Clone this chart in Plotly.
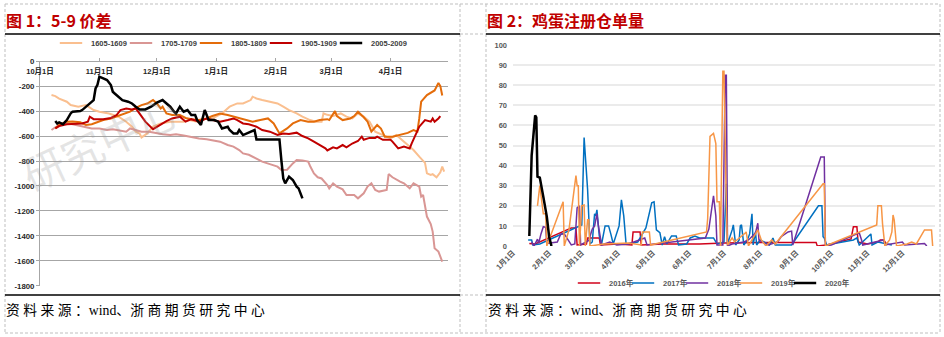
import plotly.graph_objects as go

W, H = 944, 337
def px(x): return x / W
def py(y): return 1 - y / H

# ---------------- Left chart: 5-9 spread ----------------
S1605 = [("2019-10-07",-272),("2019-10-09",-280),("2019-10-11",-300),("2019-10-15",-325),("2019-10-17",-352),("2019-10-21",-365),("2019-10-25",-352),("2019-10-29",-392),("2019-11-01",-405),("2019-11-06",-419),("2019-11-11",-445),("2019-11-15",-485),("2019-11-18",-525),("2019-11-20",-565),("2019-11-22",-580),("2019-11-23",-611),("2019-11-26",-579),("2019-11-29",-525),("2019-12-03",-499),("2019-12-08",-485),("2019-12-15",-485),("2019-12-18",-472),("2019-12-22",-485),("2019-12-25",-465),("2019-12-30",-459),("2020-01-04",-419),("2020-01-08",-365),("2020-01-12",-339),("2020-01-15",-339),("2020-01-19",-312),("2020-01-20",-285),("2020-01-22",-299),("2020-01-25",-312),("2020-01-29",-325),("2020-02-02",-339),("2020-02-05",-365),("2020-02-08",-392),("2020-02-12",-419),("2020-02-15",-445),("2020-02-19",-472),("2020-02-22",-485),("2020-02-25",-485),("2020-02-26",-419),("2020-02-28",-430),("2020-03-02",-440),("2020-03-06",-419),("2020-03-09",-445),("2020-03-12",-459),("2020-03-15",-420),("2020-03-18",-445),("2020-03-21",-485),("2020-03-24",-565),("2020-03-27",-585),("2020-04-01",-619),("2020-04-04",-592),("2020-04-07",-630),("2020-04-11",-680),("2020-04-13",-712),("2020-04-16",-765),("2020-04-19",-815),("2020-04-20",-899),("2020-04-22",-912),("2020-04-23",-905),("2020-04-25",-931),("2020-04-27",-890),("2020-04-28",-845),("2020-04-29",-885)]

S1705 = [("2019-10-07",-552),("2019-10-09",-530),("2019-10-12",-510),("2019-10-15",-499),("2019-10-18",-505),("2019-10-21",-515),("2019-10-25",-525),("2019-10-28",-539),("2019-11-01",-540),("2019-11-05",-552),("2019-11-08",-545),("2019-11-11",-552),("2019-11-15",-565),("2019-11-17",-539),("2019-11-20",-552),("2019-11-23",-565),("2019-11-27",-565),("2019-12-01",-579),("2019-12-04",-585),("2019-12-08",-592),("2019-12-11",-585),("2019-12-15",-595),("2019-12-18",-605),("2019-12-23",-619),("2019-12-27",-625),("2019-12-30",-632),("2020-01-03",-645),("2020-01-07",-672),("2020-01-10",-685),("2020-01-13",-712),("2020-01-15",-739),("2020-01-18",-750),("2020-01-22",-780),("2020-01-25",-805),("2020-01-29",-825),("2020-02-02",-845),("2020-02-04",-872),("2020-02-07",-870),("2020-02-10",-819),("2020-02-12",-792),("2020-02-15",-795),("2020-02-18",-805),("2020-02-19",-840),("2020-02-21",-899),("2020-02-23",-930),("2020-02-25",-940),("2020-02-28",-992),("2020-02-29",-1019),("2020-03-02",-979),("2020-03-04",-1005),("2020-03-07",-1027),("2020-03-09",-1072),("2020-03-13",-1072),("2020-03-15",-1099),("2020-03-18",-1059),("2020-03-20",-1005),("2020-03-22",-979),("2020-03-24",-1032),("2020-03-26",-1045),("2020-03-30",-1032),("2020-03-31",-904),("2020-04-02",-930),("2020-04-06",-965),("2020-04-08",-979),("2020-04-11",-1019),("2020-04-13",-979),("2020-04-16",-1005),("2020-04-17",-1085),("2020-04-18",-1072),("2020-04-20",-1245),("2020-04-22",-1305),("2020-04-23",-1365),("2020-04-24",-1499),("2020-04-26",-1525),("2020-04-28",-1605)]

S1805 = [("2019-10-09",-539),("2019-10-11",-510),("2019-10-15",-485),("2019-10-18",-483),("2019-10-22",-490),("2019-10-25",-512),("2019-10-28",-505),("2019-10-31",-490),("2019-11-03",-472),("2019-11-07",-460),("2019-11-10",-445),("2019-11-13",-430),("2019-11-17",-405),("2019-11-20",-375),("2019-11-23",-352),("2019-11-26",-340),("2019-11-29",-312),("2019-12-01",-339),("2019-12-03",-379),("2019-12-04",-365),("2019-12-06",-419),("2019-12-09",-432),("2019-12-13",-432),("2019-12-16",-455),("2019-12-19",-465),("2019-12-23",-472),("2019-12-27",-459),("2019-12-30",-440),("2020-01-03",-419),("2020-01-07",-432),("2020-01-10",-445),("2020-01-13",-459),("2020-01-17",-472),("2020-01-20",-485),("2020-01-24",-472),("2020-01-28",-459),("2020-01-31",-499),("2020-02-03",-579),("2020-02-07",-539),("2020-02-10",-499),("2020-02-14",-472),("2020-02-18",-485),("2020-02-21",-485),("2020-02-24",-472),("2020-02-28",-465),("2020-02-29",-472),("2020-03-03",-400),("2020-03-04",-440),("2020-03-07",-472),("2020-03-11",-459),("2020-03-13",-440),("2020-03-15",-405),("2020-03-18",-450),("2020-03-20",-485),("2020-03-22",-565),("2020-03-25",-512),("2020-03-27",-540),("2020-03-29",-605),("2020-04-02",-605),("2020-04-06",-590),("2020-04-10",-575),("2020-04-13",-552),("2020-04-15",-565),("2020-04-16",-459),("2020-04-17",-325),("2020-04-20",-272),("2020-04-22",-250),("2020-04-24",-235),("2020-04-26",-175),("2020-04-27",-200),("2020-04-28",-275)]

S1905 = [("2019-10-09",-539),("2019-10-11",-520),("2019-10-15",-505),("2019-10-19",-499),("2019-10-23",-499),("2019-10-26",-485),("2019-10-27",-445),("2019-10-29",-465),("2019-11-03",-465),("2019-11-07",-455),("2019-11-10",-432),("2019-11-12",-392),("2019-11-15",-380),("2019-11-18",-387),("2019-11-20",-379),("2019-11-22",-420),("2019-11-25",-485),("2019-11-29",-545),("2019-12-03",-505),("2019-12-06",-480),("2019-12-09",-459),("2019-12-13",-445),("2019-12-16",-485),("2019-12-19",-465),("2019-12-23",-485),("2019-12-27",-459),("2019-12-30",-472),("2020-01-03",-485),("2020-01-07",-472),("2020-01-10",-459),("2020-01-12",-472),("2020-01-15",-499),("2020-01-18",-505),("2020-01-22",-525),("2020-01-25",-552),("2020-01-29",-565),("2020-02-02",-592),("2020-02-05",-580),("2020-02-08",-584),("2020-02-12",-573),("2020-02-15",-600),("2020-02-18",-619),("2020-02-21",-645),("2020-02-24",-672),("2020-02-27",-699),("2020-02-28",-715),("2020-03-02",-690),("2020-03-04",-699),("2020-03-07",-672),("2020-03-09",-690),("2020-03-12",-660),("2020-03-15",-640),("2020-03-17",-605),("2020-03-18",-630),("2020-03-21",-615),("2020-03-24",-615),("2020-03-25",-605),("2020-03-28",-630),("2020-04-01",-630),("2020-04-02",-645),("2020-04-05",-699),("2020-04-08",-685),("2020-04-11",-699),("2020-04-12",-660),("2020-04-15",-552),("2020-04-16",-525),("2020-04-19",-472),("2020-04-22",-485),("2020-04-23",-459),("2020-04-24",-485),("2020-04-26",-459),("2020-04-27",-440)]

S2005 = [("2019-10-09",-480),("2019-10-10",-500),("2019-10-11",-490),("2019-10-13",-505),("2019-10-15",-472),("2019-10-17",-419),("2019-10-18",-405),("2019-10-22",-400),("2019-10-23",-392),("2019-10-25",-365),("2019-10-27",-333),("2019-10-29",-312),("2019-10-30",-219),("2019-10-31",-190),("2019-11-01",-125),("2019-11-03",-140),("2019-11-05",-152),("2019-11-07",-192),("2019-11-08",-245),("2019-11-09",-259),("2019-11-11",-285),("2019-11-13",-312),("2019-11-16",-325),("2019-11-18",-339),("2019-11-20",-365),("2019-11-22",-387),("2019-11-25",-387),("2019-11-28",-365),("2019-12-01",-333),("2019-12-04",-312),("2019-12-05",-325),("2019-12-08",-365),("2019-12-10",-405),("2019-12-11",-419),("2019-12-13",-365),("2019-12-15",-405),("2019-12-17",-392),("2019-12-19",-432),("2019-12-21",-432),("2019-12-22",-472),("2019-12-24",-512),("2019-12-25",-440),("2019-12-26",-392),("2019-12-27",-432),("2019-12-28",-472),("2019-12-31",-472),("2020-01-02",-485),("2020-01-04",-539),("2020-01-07",-525),("2020-01-08",-552),("2020-01-10",-579),("2020-01-12",-579),("2020-01-13",-552),("2020-01-15",-592),("2020-01-17",-579),("2020-01-19",-565),("2020-01-21",-552),("2020-01-22",-627),("2020-02-03",-627),("2020-02-04",-792),("2020-02-05",-939),("2020-02-06",-979),("2020-02-08",-925),("2020-02-10",-952),("2020-02-12",-1005),("2020-02-13",-1019),("2020-02-14",-1059),("2020-02-15",-1099)]

LEFT_SERIES = ["1605-1609", "1705-1709", "1805-1809", "1905-1909", "2005-2009"]
LEFT_TICK_DATES = ["2019-10-01","2019-11-01","2019-12-01","2020-01-01","2020-02-01","2020-03-01","2020-04-01","2020-05-01"]
LEFT_TICK_TEXT = ["10月1日","11月1日","12月1日","1月1日","2月1日","3月1日","4月1日",""]
LEFT_Y_TICKS = [0,-200,-400,-600,-800,-1000,-1200,-1400,-1600,-1800]
LEFT_Y_TEXT = ["0","-200","-400","-600","-800","-1000","-1200","-1400","-1600","-1800"]

# ---------------- Right chart: egg warehouse receipts ----------------
R2016 = [("01-15",1.2),("01-20",1),("02-20",9),("02-24",9),("02-25",0.5),("03-05",1),("03-06",4),("03-16",4),("03-17",0.5),("04-01",1),("04-13",0.5),("04-14",7),("04-20",7),("04-21",0.5),("05-10",1),("06-10",1),("07-01",1.5),("08-01",1.8),("09-18",1.8),("09-19",0),("09-27",0.5),("10-18",3.5),("10-20",9.6),("10-23",9.6),("10-24",2),("11-01",1),("11-10",2),("11-12",3),("11-15",3),("11-18",0.5)]

R2017 = [("01-14",3),("01-17",3),("01-18",0.5),("01-24",1),("03-01",10.5),("03-03",54),("03-06",28),("03-08",1),("03-10",2),("03-12",16),("03-13",15),("03-14",18),("03-16",5),("03-18",1),("03-21",10),("03-24",10),("03-26",5.8),("03-28",1),("04-02",10),("04-04",23),("04-06",15),("04-08",1),("04-18",2),("04-25",9),("04-30",21.5),("05-02",22),("05-04",8),("05-07",6.6),("05-09",0.5),("05-11",4.6),("05-13",1),("05-17",5),("05-21",5),("05-23",0.5),("05-30",1),("06-02",4),("06-06",5),("06-10",4),("06-17",4),("06-22",4),("06-25",1),("07-01",2),("07-03",31),("07-04",1),("07-08",8),("07-09",10.5),("07-11",0.5),("07-14",3),("07-15",10),("07-16",10.5),("07-18",0.5),("07-21",3),("07-23",6),("07-25",16),("07-26",0.5),("07-28",7),("07-29",0.5),("08-01",3),("08-09",0.5),("08-12",4),("08-14",0.5),("08-28",0.5),("09-20",20),("09-23",20),("09-24",4.6),("09-25",4),("09-27",0.5),("10-20",3),("10-23",4),("10-25",0.5),("11-04",6),("11-05",0.5),("11-10",2),("11-17",1),("11-22",0.5)]

R2018 = [("01-17",2),("01-19",0),("01-22",3.4),("01-23",1.3),("01-25",6),("01-27",9.6),("01-29",9.3),("01-30",1.3),("02-08",2),("02-11",6),("02-14",6),("02-17",3),("02-20",0.5),("02-23",1),("02-25",19),("02-27",20),("02-28",0.5),("03-07",2.8),("03-10",8.4),("03-12",10),("03-14",16),("03-15",11),("03-17",5),("03-18",0.5),("03-25",2),("03-31",0.5),("04-10",1),("04-24",4),("04-26",0.5),("06-15",4),("06-18",8.4),("06-21",21),("06-22",25),("06-24",15),("06-25",0.5),("06-30",0.5),("07-02",85),("07-03",85),("07-04",0),("07-08",1),("07-18",2),("07-22",3),("07-28",6.4),("07-30",11.3),("07-31",3),("08-03",2),("08-08",0.5),("08-16",2),("08-19",4.6),("08-25",7),("08-28",7.4),("08-29",0.5),("09-22",44.3),("09-25",44.3),("09-26",0),("10-01",0.5),("10-25",6.6),("10-27",3),("10-28",0.5),("11-15",3),("11-16",0.5),("12-01",2),("12-03",0.5),("12-20",1.2),("12-22",0)]

R2019 = [("01-22",20),("01-24",30),("01-27",16),("01-29",16),("01-30",0),("02-13",22),("02-14",0),("02-18",8),("02-24",35),("02-25",30),("02-26",30),("02-27",0),("03-01",20),("03-03",20.4),("03-04",0),("03-06",13),("03-07",13),("03-08",0),("03-20",1),("04-10",1.5),("04-21",0.5),("04-22",7),("04-28",7),("04-29",0.5),("06-16",7),("06-17",13.7),("06-19",54.5),("06-21",55.8),("06-22",56),("06-24",51),("06-25",22),("06-27",22),("06-28",0),("06-30",87),("07-01",87),("07-03",20),("07-04",0.5),("07-08",4),("07-10",2),("07-19",6.3),("07-20",7),("07-22",0),("07-30",8),("08-02",3),("08-06",0),("08-11",3),("08-14",1),("09-24",31),("09-25",31),("09-26",0),("11-09",10.5),("11-10",20),("11-13",20),("11-14",11),("11-16",0),("11-20",3),("11-22",7),("11-23",15.4),("11-24",13),("11-26",0),("12-05",1),("12-09",2),("12-13",1),("12-20",8),("12-26",8),("12-27",0)]

R2020 = [("01-15",5),("01-17",45),("01-20",65),("01-21",64),("01-22",34.5),("01-24",34),("01-27",24.5),("01-30",14.6),("02-01",4.6),("02-03",0)]

RIGHT_SERIES = ["2016年", "2017年", "2018年", "2019年", "2020年"]
RIGHT_TICK_DATES = ["01-01","02-01","03-01","04-01","05-01","06-01","07-01","08-01","09-01","10-01","11-01","12-01"]
RIGHT_TICK_TEXT = ["1月1日","2月1日","3月1日","4月1日","5月1日","6月1日","7月1日","8月1日","9月1日","10月1日","11月1日","12月1日"]
RIGHT_Y_TICKS = [0,10,20,30,40,50,60,70,80,90,100]

BASE_YEAR = "2019-"

# ---------------- Build figure ----------------
SANS = "Liberation Sans, Arial, Noto Sans CJK SC"
CJK = "Noto Sans CJK SC"
fig = go.Figure()

def add_series(name, xs, ys, color, width, xa, ya, legend_id, swatch_len):
    fig.add_trace(go.Scatter(x=xs, y=ys, name=name, mode="lines",
                             line=dict(color=color, width=width), xaxis=xa, yaxis=ya,
                             showlegend=False, legendgroup=name, hoverinfo="skip"))
    # legend entry drawn with a short line swatch, like the original
    fig.add_trace(go.Scatter(x=[None], y=[None], name=name, mode="markers",
                             marker=dict(symbol="line-ew", size=swatch_len,
                                         line=dict(color=color, width=width)),
                             xaxis=xa, yaxis=ya, legend=legend_id, legendgroup=name,
                             hoverinfo="skip"))

def add_spacer(xa, ya, legend_id):
    # blank trailing entry so that the last legend label is not clipped
    fig.add_trace(go.Scatter(x=[None], y=[None], name=" ", mode="markers",
                             marker=dict(size=1, color="rgba(0,0,0,0)"),
                             xaxis=xa, yaxis=ya, legend=legend_id, hoverinfo="skip"))

left_styles = [("#FABF8F", 2), ("#D99694", 2), ("#E46C0A", 2), ("#C00000", 2), ("#000000", 2.5)]
for name, data, (color, width) in zip(LEFT_SERIES, [S1605, S1705, S1805, S1905, S2005], left_styles):
    add_series(name, [d for d, _ in data], [v for _, v in data], color, width,
               "x", "y", "legend", 17)
add_spacer("x", "y", "legend")

right_styles = [("#D0021B", 1.5), ("#0070C0", 1.5), ("#7030A0", 1.5), ("#F79646", 1.5), ("#000000", 2.5)]
for name, data, (color, width) in zip(RIGHT_SERIES, [R2016, R2017, R2018, R2019, R2020], right_styles):
    add_series(name, [BASE_YEAR + d for d, _ in data], [v for _, v in data], color, width,
               "x2", "y2", "legend2", 20)
add_spacer("x2", "y2", "legend2")

grid_dark = "#A6A6A6"
fig.update_layout(
    width=W, height=H, margin=dict(l=0, r=0, t=0, b=0, autoexpand=False),
    paper_bgcolor="white", plot_bgcolor="rgba(0,0,0,0)",
    xaxis=dict(domain=[px(40), px(448)], anchor="free", position=py(61), side="bottom",
               type="date", range=["2019-10-01", "2020-05-01"], automargin=False,
               tickvals=LEFT_TICK_DATES, ticktext=LEFT_TICK_TEXT,
               ticks="inside", ticklen=3, tickcolor=grid_dark, ticklabelstandoff=3,
               showline=True, linecolor=grid_dark, linewidth=1, showgrid=False, zeroline=False,
               tickfont=dict(family=SANS, size=7.5, color="#262626", weight="bold")),
    yaxis=dict(domain=[py(286), py(61)], anchor="x", range=[-1801, 1], automargin=False,
               tickvals=LEFT_Y_TICKS, ticktext=LEFT_Y_TEXT,
               showgrid=True, gridcolor=grid_dark, gridwidth=1,
               showline=True, linecolor=grid_dark, linewidth=1,
               ticks="outside", ticklen=3, tickcolor=grid_dark, zeroline=False,
               tickfont=dict(family=SANS, size=7.8, color="#262626", weight="bold")),
    xaxis2=dict(domain=[px(513), px(935)], anchor="y2", type="date", automargin=False,
                range=[BASE_YEAR + "01-01", BASE_YEAR + "12-29"],
                tickvals=[BASE_YEAR + d for d in RIGHT_TICK_DATES], ticktext=RIGHT_TICK_TEXT,
                tickangle=-45, showgrid=False, showline=False, zeroline=False, ticks="",
                tickfont=dict(family=SANS, size=7.5, color="#595959", weight="bold")),
    yaxis2=dict(domain=[py(246), py(45)], anchor="x2", range=[0, 100], automargin=False,
                tickvals=RIGHT_Y_TICKS, showgrid=True, gridcolor="#EBEBEB", gridwidth=1.5,
                showline=False, zeroline=False, ticks="", ticklabelstandoff=5,
                tickfont=dict(family=SANS, size=7.5, color="#595959", weight="bold")),
    legend=dict(x=px(51), y=py(43), xanchor="left", yanchor="middle", orientation="h",
                font=dict(family=SANS, size=7.5, color="#404040", weight="bold"),
                bgcolor="rgba(0,0,0,0)", itemwidth=30, entrywidth=25, entrywidthmode="pixels",
                tracegroupgap=0, itemclick=False, itemdoubleclick=False),
    legend2=dict(x=px(569), y=py(283), xanchor="left", yanchor="middle", orientation="h",
                 font=dict(family=SANS, size=7.5, color="#595959", weight="bold"),
                 bgcolor="rgba(0,0,0,0)", itemwidth=30, entrywidth=9, entrywidthmode="pixels",
                 tracegroupgap=0, itemclick=False, itemdoubleclick=False),
)

# ---------------- Frame, titles, source ----------------
dash_col = "#BFBFBF"
shapes = []
def seg(x0, y0, x1, y1, color, width, dash=None):
    shapes.append(dict(type="line", xref="paper", yref="paper",
                       x0=px(x0), y0=py(y0), x1=px(x1), y1=py(y1),
                       line=dict(color=color, width=width, dash=dash or "solid")))

seg(5, 4, 940, 4, dash_col, 1, "3px,2px")
seg(5, 333, 940, 333, dash_col, 1, "3px,2px")
for xv in (5, 460, 486, 940):
    seg(xv, 4, xv, 333, dash_col, 1, "3px,2px")
seg(460, 34, 486, 34, dash_col, 1, "3px,2px")
seg(460, 295, 486, 295, dash_col, 1, "3px,2px")
seg(5, 34, 460, 34, "#000000", 1.5)
seg(486, 34, 940, 34, "#000000", 1.5)
seg(5, 295, 460, 295, "#000000", 1.5)
seg(486, 295, 940, 295, "#000000", 1.5)
fig.update_layout(shapes=shapes)

SRC = "资 料 来 源 ：wind、浙 商 期 货 研 究 中 心"
annotations = [
    dict(text="图 1：5-9 价差", x=px(4), y=py(20), xanchor="left", yanchor="middle",
         font=dict(family=CJK, size=16, color="#C00000", weight="bold")),
    dict(text="图 2：鸡蛋注册仓单量", x=px(485), y=py(20), xanchor="left", yanchor="middle",
         font=dict(family=CJK, size=16, color="#C00000", weight="bold")),
    dict(text=SRC, x=px(4), y=py(310), xanchor="left", yanchor="middle",
         font=dict(family="Liberation Serif, Noto Sans CJK SC", size=13.8, color="#000000")),
    dict(text=SRC, x=px(486), y=py(310), xanchor="left", yanchor="middle",
         font=dict(family="Liberation Serif, Noto Sans CJK SC", size=13.8, color="#000000")),
    dict(text="研究中心", x=px(100), y=py(140), xanchor="center", yanchor="middle",
         textangle=-25, font=dict(family=CJK, size=42, color="rgba(150,150,150,0.25)")),
]
for a in annotations:
    a.update(xref="paper", yref="paper", showarrow=False)
fig.update_layout(annotations=annotations)

fig.write_html("out.html", post_script="document.body.style.margin='0';document.body.style.padding='0';")
